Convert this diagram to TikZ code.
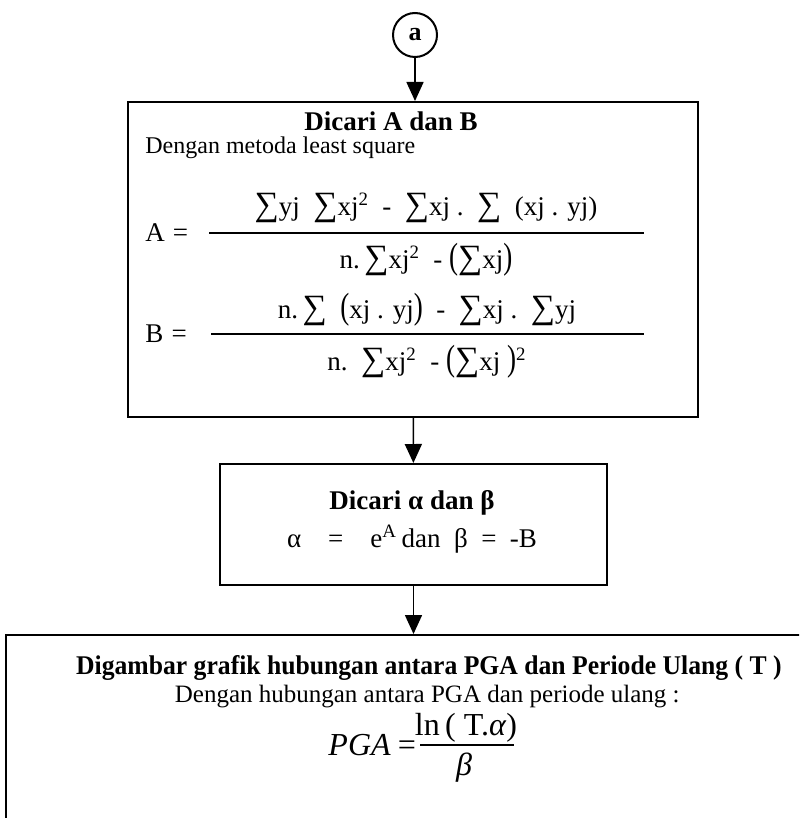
\documentclass[tikz,border=0pt]{standalone}
\usepackage{fontspec}
\setmainfont{Liberation Serif}
\usepackage{graphicx}
\usetikzlibrary{arrows.meta}
\newcommand{\Sg}{{\fontsize{17}{17}\selectfont ∑}}
\newcommand{\BP}[1]{\scalebox{1}[1.35]{#1}}
\newcommand{\gp}{\hspace{0.5em}}
\begin{document}
\begin{tikzpicture}[x=0.5pt,y=-0.5pt,
  box/.style={draw,line width=1pt,rectangle,inner sep=0pt},
  conn/.style={line width=0.8pt,-{Triangle[length=9.5pt,width=8.5pt]}},
  txt/.style={inner sep=0pt,font=\fontsize{12}{14}\selectfont},
  ttl/.style={inner sep=0pt,font=\bfseries\fontsize{13.5}{15}\selectfont},
  frm/.style={inner sep=0pt,font=\fontsize{13.5}{15}\selectfont},
  fline/.style={line width=0.6pt}]
\useasboundingbox (0,0) rectangle (799,818);
\clip (0,0) rectangle (799,818);
% nodes
\node[circle,draw,line width=1pt,minimum size=22pt,inner sep=0pt,font=\bfseries\fontsize{13}{14}\selectfont] (a) at (415,35) {a};
\node[box,minimum width=285pt,minimum height=157.5pt] (b1) at (413,259.5) {};
\node[box,minimum width=193.5pt,minimum height=60.5pt] (b2) at (413.5,524.5) {};
\node[box,minimum width=420pt,minimum height=120pt,anchor=north west] (b3) at (5,634) {};
% connectors
\coordinate (b1in) at (a.south |- b1.north);
\draw[conn] (a.south) -- (b1in);
\draw[conn] (b1) -- (b2);
\coordinate (b3in) at (b2.south |- b3.north);
\draw[conn] (b2.south) -- (b3in);
% box 1 text
\node[ttl] (t1) at (391,121) {Dicari A dan B};
\node[txt,anchor=west] (t2) at (145,148) {Dengan metoda least square};
\node[frm,anchor=west] (aeq) at (145,233) {A\hspace{0.3em}=};
\node[frm] (anum) at (426,208) {\Sg yj\gp\Sg xj\textsuperscript{2}\gp-\gp\Sg xj .\gp\Sg\gp(xj . yj)};
\node[frm] (aden) at (426,260) {n.\,\Sg xj\textsuperscript{2}\gp-\ \BP{(}\Sg xj\BP{)}};
\coordinate (al1) at (209,233);
\coordinate (al2) at (644,233);
\draw[fline] (al1) -- (al2);
\node[frm,anchor=west] (beq) at (145,334) {B\hspace{0.3em}=};
\node[frm] (bnum) at (427,310) {n.\,\Sg\gp\BP{(}xj . yj\BP{)}\gp-\gp\Sg xj .\gp\Sg yj};
\node[frm] (bden) at (427,362) {n.\gp\Sg xj\textsuperscript{2}\gp-\ \BP{(}\Sg xj\ \BP{)}\textsuperscript{2}};
\coordinate (bl1) at (211,334);
\coordinate (bl2) at (644,334);
\draw[fline] (bl1) -- (bl2);
% box 2 text
\node[ttl] (t3) at (412,503) {Dicari α dan β};
\node[frm] (t4) at (412,539) {α\ \ \ \ =\ \ \ \ e\textsuperscript{A}\,dan\ \ β\ \ =\ \ -B};
% box 3 text
\node[inner sep=0pt,font=\bfseries\fontsize{13.5}{15}\selectfont,anchor=east] (t5) at (782,668) {\scalebox{0.95}[1]{Digambar grafik hubungan antara PGA dan Periode Ulang ( T )}};
\node[inner sep=0pt,font=\fontsize{12.5}{14}\selectfont,anchor=east] (t6) at (680,697) {Dengan hubungan antara PGA dan periode ulang :};
\node[inner sep=0pt,font=\itshape\fontsize{16}{18}\selectfont,anchor=east] (peq) at (418,745) {PGA\,=};
\node[inner sep=0pt,font=\fontsize{16}{18}\selectfont] (pnum) at (466,728) {ln\,( T.\textit{α})};
\node[inner sep=0pt,font=\itshape\fontsize{16}{18}\selectfont] (pden) at (464,768) {β};
\coordinate (pl1) at (420,745);
\coordinate (pl2) at (514,745);
\draw[fline] (pl1) -- (pl2);
\end{tikzpicture}
\end{document}
